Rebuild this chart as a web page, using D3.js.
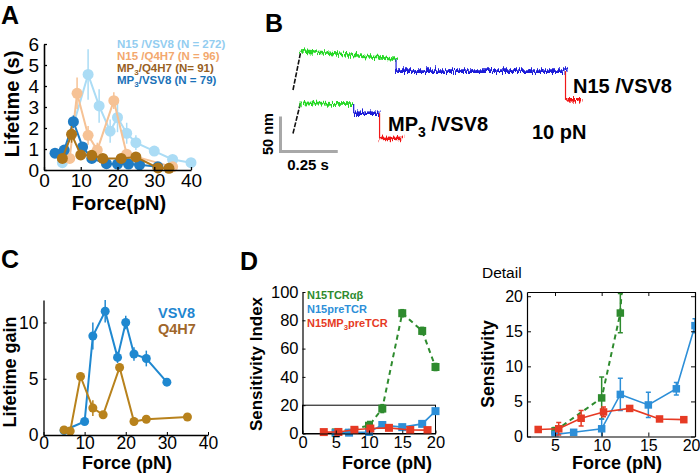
<!DOCTYPE html>
<html><head><meta charset="utf-8">
<script src="https://cdn.jsdelivr.net/npm/d3@7"></script>
<style>
body{margin:0;background:#fff}
svg{display:block;font-family:"Liberation Sans",Arial,Helvetica,sans-serif}
</style>
</head><body>
<svg id="c" width="700" height="476"></svg>
<script>
// ---------- Panel A : lifetime vs force ----------
const aTicksX = [0, 10, 20, 30, 40];
const aTicksY = [0, 1, 2, 3, 4, 5, 6];
const aN15VSV8F = [5, 12, 15, 18, 20, 22.5, 25, 30, 35, 40];
const aN15VSV8L = [0.35, 4.55, 3.05, 1.85, 2.5, 1.75, 1.3, 0.9, 0.5, 0.35];
const aN15VSV8E = [0.1, 1.2, 0.8, 0.55, 0.7, 0.5, 0.35, 0.2, 0.1, 0.05];
const aN15Q4H7F = [7, 9, 12, 14.5, 19, 22.5, 35];
const aN15Q4H7L = [0.55, 3.65, 1.65, 0.95, 3.3, 0.75, 0.15];
const aN15Q4H7E = [0.1, 0.75, 0.45, 0.35, 0.4, 0.2, 0.05];
const aMP3VSV8F = [3, 5.5, 8, 10.5, 13, 17, 20, 23, 26, 31];
const aMP3VSV8L = [0.8, 0.95, 2.3, 1.1, 0.55, 0.3, 0.28, 0.28, 0.25, 0.15];
const aMP3VSV8E = [0.1, 0.2, 0.3, 0.2, 0.1, 0.05, 0.05, 0.05, 0.05, 0.05];
const aMP3Q4H7F = [5, 7.5, 10, 13, 16, 21, 25, 31, 34];
const aMP3Q4H7L = [0.55, 1.7, 0.72, 0.7, 0.55, 0.55, 0.62, 0.1, 0.08];
const aMP3Q4H7E = [0.1, 0.4, 0.15, 0.1, 0.1, 0.1, 0.1, 0.05, 0.05];
const aLegend = [
  [["N15 /VSV8 (N = 272)", 0]],
  [["N15 /Q4H7 (N = 96)", 0]],
  [["MP", 0], ["3", 1], ["/Q4H7 (N= 91)", 0]],
  [["MP", 0], ["3", 1], ["/VSV8 (N = 79)", 0]]
];

// ---------- Panel B : extension traces (time s, extension nm) ----------
const bTopT = [0, 0.034, 0.45, 1.19, 1.26];
const bTopNm = [[0, 55], [56, 44], [27, 27], [-14, -14]];
const bBotT = [0, 0.032, 0.265, 0.378, 0.477];
const bBotNm = [[0, 43], [43, 42], [29, 29], [-7, -7]];
const bScaleTime = 0.25;
const bScaleNm = 50;

// ---------- Panel C : lifetime gain ----------
const cTicksX = [0, 10, 20, 30, 40];
const cTicksY = [0, 5, 10];
const cVSV8F = [5, 10, 12, 15, 18, 20, 22, 25, 30];
const cVSV8G = [0.4, 1.2, 8.8, 11, 6.9, 10, 7.2, 6.8, 4.7];
const cVSV8E = [0.1, 0.3, 1.2, 1.0, 0.5, 0.6, 0.6, 0.7, 0.2];
const cQ4H7F = [5, 6.5, 9, 12, 14.5, 18.5, 22, 25, 35];
const cQ4H7G = [0.45, 0.35, 5.2, 2.4, 1.8, 6.0, 1.2, 1.4, 1.6];
const cQ4H7E = [0.1, 0.1, 0.2, 0.7, 0.3, 0.3, 0.35, 0.15, 0.1];

// ---------- Panel D : sensitivity ----------
const dTicksX = [0, 5, 10, 15, 20];
const dTicksY = [0, 20, 40, 60, 80, 100];
const dDetailTicksX = [5, 10, 15, 20];
const dDetailTicksY = [0, 5, 10, 15, 20];
const dTcrF = [5, 10, 12, 15, 18, 20];
const dTcrS = [0.8, 5.5, 17.6, 85, 72.5, 47];
const dTcrE = [0.5, 3.0, 2.8, 2.5, 2.5, 2.5];
const dPreF = [5, 7, 10, 12, 15, 18, 20];
const dPreS = [0.3, 0.6, 1.1, 6.0, 4.5, 6.8, 15.8];
const dPreE = [0.1, 0.2, 1.4, 2.3, 1.8, 0.9, 1.0];
const dMp3F = [3.2, 5.4, 7.8, 10.2, 13, 16.2, 18.8];
const dMp3S = [1.0, 1.1, 2.6, 3.5, 4.0, 2.5, 2.4];
const dMp3E = [0.1, 0.9, 1.1, 0.7, 0.3, 0.2, 0.2];

// =====================================================
const svg = d3.select("#c");
svg.append("rect").attr("width", 700).attr("height", 476).attr("fill", "#fff");
const defs = svg.append("defs");

function rich(g, x, y, parts, fs, attrs) {
  const t = g.append("text").attr("x", x).attr("y", y).attr("font-size", fs);
  Object.entries(attrs || {}).forEach(([k, v]) => t.attr(k, v));
  let shifted = false;
  parts.forEach(([s, sub]) => {
    const ts = t.append("tspan").text(s);
    if (sub && !shifted) { ts.attr("dy", fs * 0.3).attr("font-size", fs * 0.7); shifted = true; }
    else if (!sub && shifted) { ts.attr("dy", -fs * 0.3); shifted = false; }
  });
  return t;
}

function axes(g, x, y, o) {
  const xa = g.append("g").attr("transform", `translate(0,${y.range()[0]})`)
    .call(d3.axisBottom(x).tickValues(o.xt).tickSizeInner(-o.tick).tickSizeOuter(0).tickPadding(o.xpad).tickFormat(d3.format("d")));
  const ya = g.append("g").attr("transform", `translate(${x.range()[0]},0)`)
    .call(d3.axisLeft(y).tickValues(o.yt).tickSizeInner(-o.tick).tickSizeOuter(0).tickPadding(o.ypad).tickFormat(d3.format("d")));
  [xa, ya].forEach(a => {
    a.select(".domain").attr("stroke", "#000").attr("stroke-width", o.lw);
    a.selectAll(".tick line").attr("stroke", "#000").attr("stroke-width", o.lw * 0.8);
    a.selectAll("text").attr("font-size", o.fs).attr("fill", "#000").attr("font-family", null);
  });
  if (o.box) {
    const xt = g.append("g").attr("transform", `translate(0,${y.range()[1]})`)
      .call(d3.axisTop(x).tickValues(o.xt).tickSizeInner(-o.tick).tickSizeOuter(0).tickFormat(""));
    const yr = g.append("g").attr("transform", `translate(${x.range()[1]},0)`)
      .call(d3.axisRight(y).tickValues(o.yt).tickSizeInner(-o.tick).tickSizeOuter(0).tickFormat(""));
    [xt, yr].forEach(a => {
      a.select(".domain").attr("stroke", "#000").attr("stroke-width", o.lw);
      a.selectAll(".tick line").attr("stroke", "#000").attr("stroke-width", o.lw * 0.8);
    });
  }
  return xa;
}

function series(g, x, y, F, V, E, o) {
  const pts = F.map((f, i) => [f, V[i], E[i]]);
  const line = d3.line().x(d => x(d[0])).y(d => y(d[1]));
  g.append("path").attr("d", line(pts)).attr("fill", "none").attr("stroke", o.color)
    .attr("stroke-width", o.lw).attr("stroke-dasharray", o.dash || null);
  const eb = g.append("g").attr("stroke", o.ecolor || o.color).attr("stroke-width", o.elw || 1.5);
  pts.forEach(d => {
    eb.append("line").attr("x1", x(d[0])).attr("x2", x(d[0])).attr("y1", y(d[1] - d[2])).attr("y2", y(d[1] + d[2]));
    if (o.cap) {
      [d[1] - d[2], d[1] + d[2]].forEach(v => eb.append("line").attr("x1", x(d[0]) - o.cap).attr("x2", x(d[0]) + o.cap).attr("y1", y(v)).attr("y2", y(v)));
    }
  });
  const mk = g.append("g").attr("fill", o.color);
  pts.forEach(d => {
    if (o.shape === "square") {
      mk.append("rect").attr("x", x(d[0]) - o.size / 2).attr("y", y(d[1]) - o.size / 2).attr("width", o.size).attr("height", o.size);
    } else {
      mk.append("circle").attr("cx", x(d[0])).attr("cy", y(d[1])).attr("r", o.size);
    }
  });
}

function panelLabel(t, x, y) {
  svg.append("text").attr("x", x).attr("y", y).attr("font-size", 25).attr("font-weight", "bold").text(t);
}

// ---------------- Panel A ----------------
{
  const g = svg.append("g");
  const x = d3.scaleLinear().domain([0, 40]).range([44, 191]);
  const y = d3.scaleLinear().domain([0, 6]).range([170, 44]);
  const cLB = "#abdcf5", cLO = "#f6c295", cBr = "#ad7418", cB = "#1f7cc4";
  series(g, x, y, aN15VSV8F, aN15VSV8L, aN15VSV8E, {color: cLB, lw: 2, size: 5.5});
  series(g, x, y, aN15Q4H7F, aN15Q4H7L, aN15Q4H7E, {color: cLO, lw: 2, size: 5.5});
  series(g, x, y, aMP3VSV8F, aMP3VSV8L, aMP3VSV8E, {color: cB, lw: 2, size: 5.5});
  series(g, x, y, aMP3Q4H7F, aMP3Q4H7L, aMP3Q4H7E, {color: cBr, lw: 2, size: 5.5});
  axes(g, x, y, {xt: aTicksX, yt: aTicksY, tick: 3, lw: 1.6, fs: 19, xpad: 4, ypad: 5});
  const legCols = ["#93cdf0", "#f3a86e", "#985f1f", "#1a72b8"];
  aLegend.forEach((parts, i) => rich(g, 117, 48 + i * 12, parts, 11.5, {"font-weight": "bold", fill: legCols[i]}));
  g.append("text").attr("transform", "translate(19,104) rotate(-90)").attr("text-anchor", "middle")
    .attr("font-size", 20).attr("font-weight", "bold").text("Lifetime (s)");
  g.append("text").attr("x", 119).attr("y", 210).attr("text-anchor", "middle")
    .attr("font-size", 20).attr("font-weight", "bold").text("Force(pN)");
  panelLabel("A", 1, 24);
}

// ---------------- Panel B ----------------
{
  const g = svg.append("g");
  const f = defs.append("filter").attr("id", "noise").attr("filterUnits", "userSpaceOnUse")
    .attr("x", 270).attr("y", 20).attr("width", 340).attr("height", 150);
  f.append("feTurbulence").attr("type", "fractalNoise").attr("baseFrequency", "0.9 0.08")
    .attr("numOctaves", 2).attr("seed", 7).attr("result", "n");
  f.append("feDisplacementMap").attr("in", "SourceGraphic").attr("in2", "n").attr("scale", 9)
    .attr("xChannelSelector", "R").attr("yChannelSelector", "G");
  const t = d3.scaleLinear().domain([0, 1]).range([293, 522]);
  const yTop = d3.scaleLinear().domain([0, 50]).range([90, 55]);
  const yBot = d3.scaleLinear().domain([0, 50]).range([133.5, 98.5]);
  const cols = ["#111", "#27d827", "#1c1cd8", "#f01818"];
  [[bTopT, bTopNm, yTop], [bBotT, bBotNm, yBot]].forEach(([T, N, yy]) => {
    N.forEach((nm, i) => {
      const seg = g.append("line").attr("x1", t(T[i])).attr("x2", t(T[i + 1]))
        .attr("y1", yy(nm[0])).attr("y2", yy(nm[1])).attr("stroke", cols[i]);
      if (i === 0) seg.attr("stroke-width", 1.6).attr("stroke-dasharray", "5,1.5");
      else seg.attr("stroke-width", 3.6).attr("filter", "url(#noise)");
      if (i > 0 && N[i - 1][1] !== nm[0]) {
        g.append("line").attr("x1", t(T[i])).attr("x2", t(T[i]))
          .attr("y1", yy(N[i - 1][1])).attr("y2", yy(nm[0])).attr("stroke", cols[i]).attr("stroke-width", 1.2);
      }
    });
  });
  // scale bars
  const x0 = 280.5, y0 = 151.5;
  const hLen = t(bScaleTime) - t(0), vLen = yTop(0) - yTop(bScaleNm);
  g.append("path").attr("d", `M${x0},${y0 - vLen}V${y0}H${x0 + hLen}`).attr("fill", "none")
    .attr("stroke", "#a8a8a8").attr("stroke-width", 3);
  g.append("text").attr("transform", `translate(273,${y0 - vLen / 2}) rotate(-90)`).attr("text-anchor", "middle")
    .attr("font-size", 14.5).attr("font-weight", "bold").text(bScaleNm + " nm");
  g.append("text").attr("x", 308).attr("y", 170).attr("text-anchor", "middle")
    .attr("font-size", 15).attr("font-weight", "bold").text(bScaleTime + " s");
  rich(g, 573, 93, [["N15 /VSV8", 0]], 20, {"font-weight": "bold"});
  rich(g, 388, 131, [["MP", 0], ["3", 1], [" /VSV8", 0]], 20, {"font-weight": "bold"});
  g.append("text").attr("x", 532).attr("y", 139).attr("font-size", 20).attr("font-weight", "bold").text("10 pN");
  panelLabel("B", 265, 32);
}

// ---------------- Panel C ----------------
{
  const g = svg.append("g");
  const x = d3.scaleLinear().domain([0, 40]).range([43.5, 208]);
  const y = d3.scaleLinear().domain([0, 12]).range([435, 300]);
  const cB = "#1f88d0", cG = "#b8821c";
  series(g, x, y, cVSV8F, cVSV8G, cVSV8E, {color: cB, lw: 2, size: 4.5});
  series(g, x, y, cQ4H7F, cQ4H7G, cQ4H7E, {color: cG, lw: 2, size: 4.5});
  axes(g, x, y, {xt: cTicksX, yt: cTicksY, tick: 3, lw: 1.3, fs: 17.5, xpad: 2, ypad: 5});
  g.append("text").attr("x", 158).attr("y", 318).attr("font-size", 14.5).attr("font-weight", "bold").attr("fill", "#1f86d0").text("VSV8");
  g.append("text").attr("x", 158).attr("y", 333.5).attr("font-size", 14.5).attr("font-weight", "bold").attr("fill", "#a0662a").text("Q4H7");
  g.append("text").attr("transform", "translate(16,372) rotate(-90)").attr("text-anchor", "middle")
    .attr("font-size", 18).attr("font-weight", "bold").text("Lifetime gain");
  g.append("text").attr("x", 127).attr("y", 469).attr("text-anchor", "middle")
    .attr("font-size", 18).attr("font-weight", "bold").text("Force (pN)");
  panelLabel("C", 1, 268);
}

// ---------------- Panel D main ----------------
const dGreen = "#2e8b2e", dBlue = "#2d8fd8", dRed = "#e63a24";
{
  const g = svg.append("g");
  const x = d3.scaleLinear().domain([0, 20]).range([302.5, 435.5]);
  const y = d3.scaleLinear().domain([0, 100]).range([433.5, 292]);
  g.append("rect").attr("x", x(0)).attr("y", y(20)).attr("width", x(20) - x(0)).attr("height", y(0) - y(20))
    .attr("fill", "none").attr("stroke", "#000").attr("stroke-width", 1);
  series(g, x, y, dTcrF, dTcrS, dTcrE, {color: dGreen, lw: 2, dash: "5,4", size: 8, shape: "square", cap: 2});
  series(g, x, y, dPreF, dPreS, dPreE, {color: dBlue, lw: 1.6, size: 8, shape: "square", cap: 2});
  series(g, x, y, dMp3F, dMp3S, dMp3E, {color: dRed, lw: 1.6, size: 8, shape: "square", cap: 2});
  axes(g, x, y, {xt: dTicksX, yt: dTicksY, tick: 3, lw: 1.2, fs: 16.5, xpad: 3, ypad: 4});
  g.append("text").attr("x", 307).attr("y", 298.5).attr("font-size", 11).attr("font-weight", "bold").attr("fill", dGreen).text("N15TCRαβ");
  g.append("text").attr("x", 307).attr("y", 312.5).attr("font-size", 11).attr("font-weight", "bold").attr("fill", dBlue).text("N15preTCR");
  rich(g, 307, 326.5, [["N15MP", 0], ["3", 1], ["preTCR", 0]], 11, {"font-weight": "bold", fill: dRed});
  g.append("text").attr("transform", "translate(262,364) rotate(-90)").attr("text-anchor", "middle")
    .attr("font-size", 17).attr("font-weight", "bold").text("Sensitivity Index");
  g.append("text").attr("x", 387).attr("y", 469).attr("text-anchor", "middle")
    .attr("font-size", 18).attr("font-weight", "bold").text("Force (pN)");
  panelLabel("D", 240, 270);
}

// ---------------- Panel D detail ----------------
{
  const g = svg.append("g");
  const x = d3.scaleLinear().domain([2, 20]).range([527, 695]);
  const y = d3.scaleLinear().domain([0, 20.6]).range([436.5, 292]);
  const clipId = "clipDetail";
  defs.append("clipPath").attr("id", clipId).append("rect")
    .attr("x", 527).attr("y", 292).attr("width", 168).attr("height", 144.5);
  const inner = g.append("g").attr("clip-path", `url(#${clipId})`);
  series(inner, x, y, dTcrF, dTcrS, dTcrE, {color: dGreen, lw: 2, dash: "5,4", size: 7.5, shape: "square", cap: 2.5});
  series(inner, x, y, dPreF, dPreS, dPreE, {color: dBlue, lw: 1.6, size: 7.5, shape: "square", cap: 2.5});
  series(inner, x, y, dMp3F, dMp3S, dMp3E, {color: dRed, lw: 1.6, size: 7.5, shape: "square", cap: 2.5});
  const xa = axes(g, x, y, {xt: dDetailTicksX, yt: dDetailTicksY, tick: 4, lw: 1.2, fs: 16, xpad: 3, ypad: 4, box: true});
  // keep the last tick label inside the window
  xa.selectAll(".tick text").filter(d => d === 20).attr("text-anchor", "end").attr("x", 5);
  g.append("text").attr("x", 482).attr("y", 278).attr("font-size", 15.5).text("Detail");
  g.append("text").attr("transform", "translate(494,364) rotate(-90)").attr("text-anchor", "middle")
    .attr("font-size", 17.5).attr("font-weight", "bold").text("Sensitivity");
  g.append("text").attr("x", 617).attr("y", 469).attr("text-anchor", "middle")
    .attr("font-size", 18).attr("font-weight", "bold").text("Force (pN)");
}
</script>
</body></html>
